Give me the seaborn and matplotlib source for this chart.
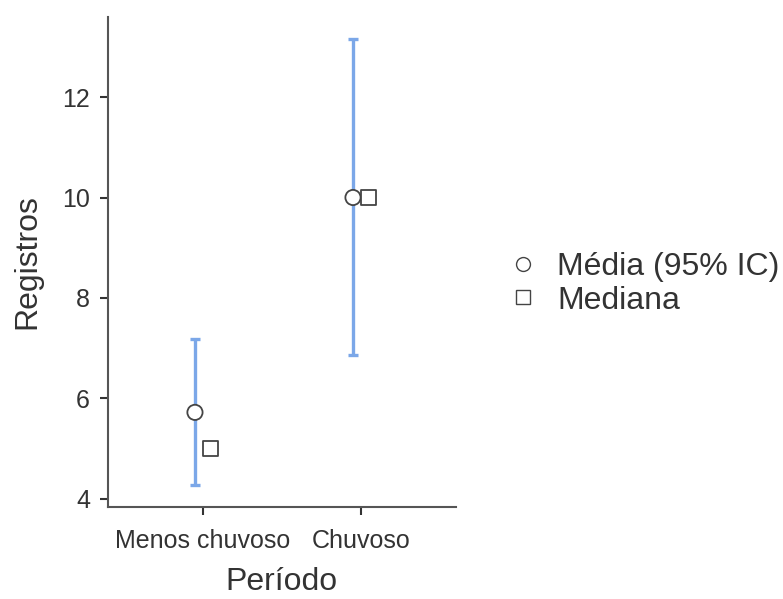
import matplotlib
matplotlib.use("Agg")
import matplotlib.pyplot as plt
import numpy as np
import pandas as pd
import seaborn as sns

periodos = ["Menos chuvoso", "Chuvoso"]
media = [5.72, 10.0]
ic_inf = [4.27, 6.86]
ic_sup = [7.19, 13.15]
mediana = [5.0, 10.0]

sns.set_theme(style="ticks")
plt.rcParams["font.family"] = ["Liberation Sans", "DejaVu Sans"]
plt.rcParams["text.color"] = "#333333"
plt.rcParams["axes.labelcolor"] = "#333333"
plt.rcParams["xtick.color"] = "#333333"
plt.rcParams["ytick.color"] = "#333333"

fig = plt.figure(figsize=(7.83, 5.99), dpi=100)
ax = fig.add_axes([0.138, 0.154, 0.444, 0.818])

pos = np.arange(len(periodos))
df_media = pd.DataFrame({"x": pos - 0.05, "y": media, "tipo": "Média (95% IC)"})
df_med = pd.DataFrame({"x": pos + 0.05, "y": mediana, "tipo": "Mediana"})
df = pd.concat([df_media, df_med], ignore_index=True)

media = np.array(media)
yerr = np.vstack([media - np.array(ic_inf), np.array(ic_sup) - media])
ax.errorbar(pos - 0.05, media, yerr=yerr, fmt="none", ecolor="#7ba7e8",
            elinewidth=2.4, capsize=3.5, capthick=2.4, zorder=1)

sns.scatterplot(data=df, x="x", y="y", style="tipo",
                markers={"Média (95% IC)": "o", "Mediana": "s"},
                color="white", edgecolor="#444444", linewidth=1.3, s=120,
                ax=ax, zorder=3)

ax.set_xlim(-0.6, 1.6)
ax.set_ylim(3.84, 13.6)
ax.set_xticks(pos)
ax.set_xticklabels(periodos, fontsize=18)
ax.set_yticks([4, 6, 8, 10, 12])
ax.tick_params(axis="y", labelsize=18, length=6, width=1.5, pad=7)
ax.tick_params(axis="x", length=6, width=1.5, pad=10)
ax.set_xlabel("Período", fontsize=23, labelpad=10)
ax.set_ylabel("Registros", fontsize=23, labelpad=14)
for s in ["left", "bottom"]:
    ax.spines[s].set_linewidth(1.5)
    ax.spines[s].set_color("#555555")
sns.despine(ax=ax)

h, l = ax.get_legend_handles_labels()
for hh in h:
    hh.set_markersize(10)
    hh.set_markeredgewidth(1.0)
leg = ax.legend(h, l, loc="center left", bbox_to_anchor=(0.631, 0.526),
                bbox_transform=fig.transFigure, borderaxespad=0,
                frameon=False, fontsize=23, handletextpad=0.57,
                labelspacing=0.1, handlelength=1.0)

fig.savefig("out.png", dpi=100)
